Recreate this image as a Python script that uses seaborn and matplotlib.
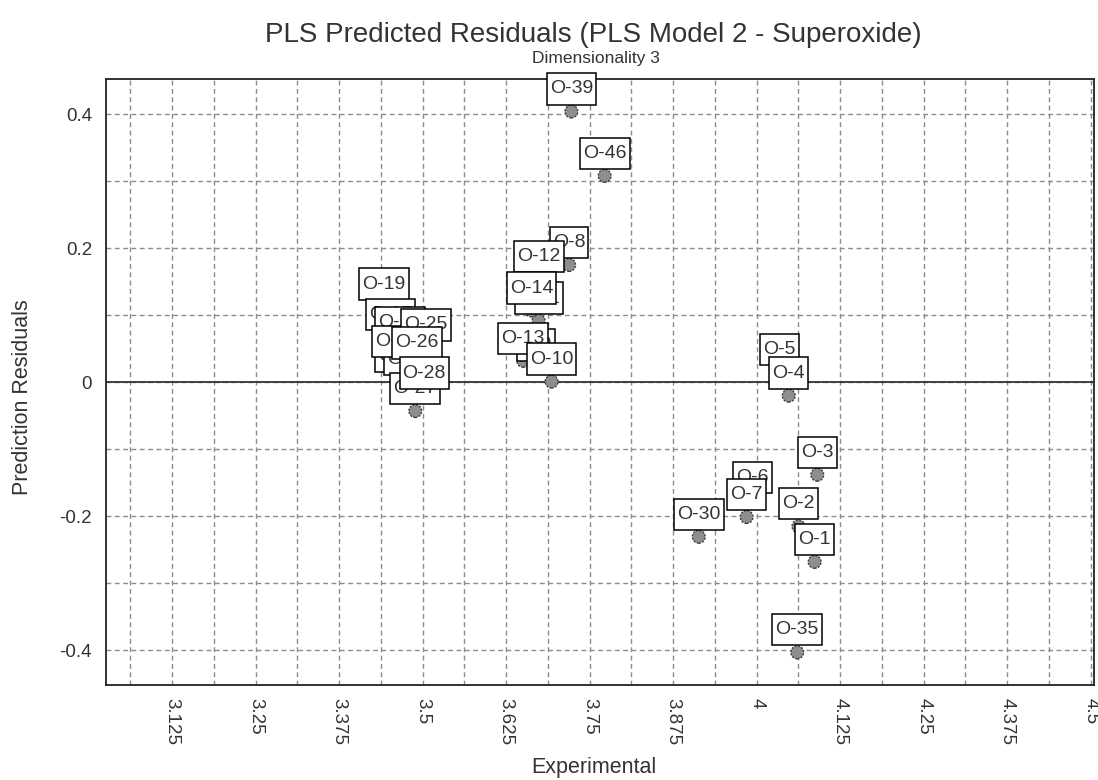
import matplotlib
matplotlib.use('Agg')
from matplotlib import pyplot as plt
from matplotlib.ticker import MultipleLocator
import pandas as pd
import seaborn as sns

# Observation labels, experimental values and PLS prediction residuals
# (listed in drawing order so the overlapping label boxes stack like the original)
labels = ['O-39', 'O-46', 'O-8', 'O-12', 'O-11', 'O-14', 'O-9', 'O-13', 'O-10',
          'O-19', 'O-17', 'O-16', 'O-22', 'O-23', 'O-20', 'O-25', 'O-26', 'O-27', 'O-28',
          'O-5', 'O-4', 'O-3', 'O-6', 'O-7', 'O-30', 'O-2', 'O-1', 'O-35']
experimental = [3.7226, 3.7725, 3.7193, 3.674, 3.6736, 3.663, 3.6694, 3.6506, 3.693,
                3.4423, 3.452, 3.466, 3.466, 3.479, 3.461, 3.505, 3.492, 3.489, 3.5025,
                4.034, 4.048, 4.0908, 3.994, 3.985, 3.9134, 4.0625, 4.0868, 4.0608]
residuals = [0.404, 0.308, 0.175, 0.154, 0.092, 0.107, 0.022, 0.032, 0.001,
             0.113, 0.067, 0.055, 0.005, 0.000, 0.027, 0.052, 0.025, -0.043, -0.020,
             0.015, -0.020, -0.138, -0.176, -0.201, -0.2305, -0.215, -0.268, -0.403]

x_ticks = [3.125, 3.25, 3.375, 3.5, 3.625, 3.75, 3.875, 4.0, 4.125, 4.25, 4.375, 4.5]
x_tick_labels = ['3.125', '3.25', '3.375', '3.5', '3.625', '3.75', '3.875', '4',
                 '4.125', '4.25', '4.375', '4.5']
y_ticks = [0.4, 0.2, 0.0, -0.2, -0.4]
y_tick_labels = ['0.4', '0.2', '0', '-0.2', '-0.4']

df = pd.DataFrame({'label': labels, 'Experimental': experimental, 'Residual': residuals})

sns.set_style('white')
plt.rcParams['font.family'] = ['Liberation Sans', 'DejaVu Sans']

W, H = 1098, 780
fig = plt.figure(figsize=(W / 100, H / 100), dpi=100)
ax = fig.add_axes([106 / W, 1 - 684.5 / H, (1094 - 106) / W, (684.5 - 79.3) / H])

grid_kw = dict(color='#8c8c8c', linewidth=1, linestyle=(0, (3.5, 2.5)))
ax.xaxis.set_minor_locator(MultipleLocator(0.0625))
ax.yaxis.set_minor_locator(MultipleLocator(0.1))
ax.grid(which='both', axis='both', **grid_kw)
ax.set_axisbelow(True)
ax.axhline(0, color='#333333', linewidth=1.3, zorder=1.5)

sns.scatterplot(data=df, x='Experimental', y='Residual', ax=ax, s=85,
                color='#8e8e8e', edgecolor='#3c3c3c', linewidth=1.0,
                linestyle=(0, (1.5, 1)), zorder=3)

for i, row in df.iterrows():
    ax.annotate(row['label'], (row['Experimental'], row['Residual']),
                xytext=(0, 14), textcoords='offset pixels',
                ha='center', va='bottom', fontsize=14, color='#333333',
                bbox=dict(boxstyle='square,pad=0.16', fc='white', ec='black', lw=1.1,
                          mutation_aspect=2.3),
                zorder=4)

ax.set_xlim(3.026, 4.505)
ax.set_ylim(-0.451, 0.452)
ax.set_xticks(x_ticks, x_tick_labels, rotation=-90, ha='center', va='top')
ax.set_yticks(y_ticks, y_tick_labels)
ax.tick_params(axis='both', which='major', direction='out', length=7, width=1.2,
               labelsize=13.5, labelcolor='#333333', color='#333333', pad=3)
ax.tick_params(axis='x', which='minor', direction='out', length=4, width=1.2, color='#333333')
ax.tick_params(axis='y', which='minor', length=0)
for sp in ax.spines.values():
    sp.set_color('#222222')
    sp.set_linewidth(1.3)

ax.set_xlabel('Experimental', fontsize=15.5, color='#333333', va='center')
ax.set_ylabel('Prediction Residuals', fontsize=15.5, color='#333333', va='center')
ax.xaxis.set_label_coords((594 - 106) / (1094 - 106), -(768 - 684.5) / (684.5 - 79.3))
ax.yaxis.set_label_coords(-(106 - 23) / (1094 - 106), (684.5 - 397) / (684.5 - 79.3))

fig.text(593 / W, 1 - 35 / H, 'PLS Predicted Residuals (PLS Model 2 - Superoxide)',
         ha='center', va='center', fontsize=20, color='#333333')
fig.text(596 / W, 1 - 59 / H, 'Dimensionality 3',
         ha='center', va='center', fontsize=12.5, color='#333333')

fig.savefig('out.png', dpi=100)
